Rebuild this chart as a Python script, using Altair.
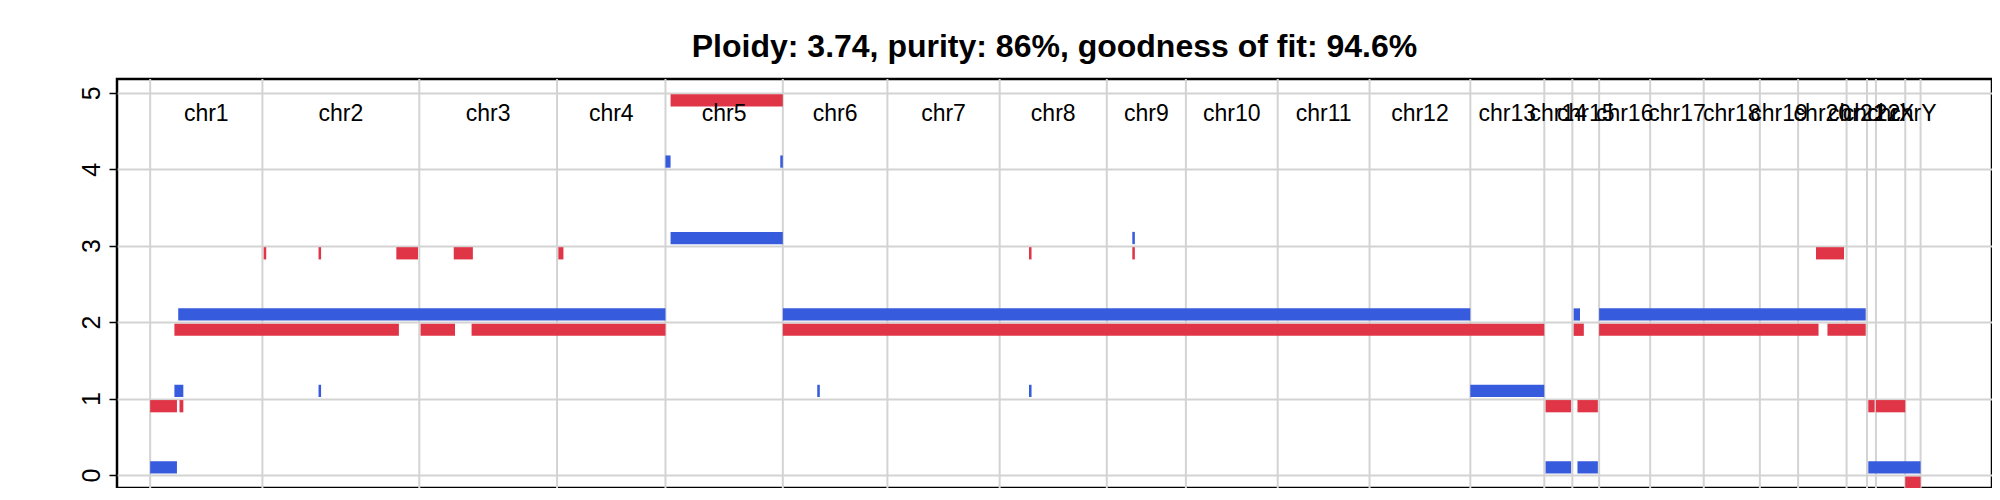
import pandas as pd
import altair as alt

FONT = "Liberation Sans"

# chromosome boundaries (probe index units along the genome)
chrom_names = ["chr1", "chr2", "chr3", "chr4", "chr5", "chr6", "chr7", "chr8", "chr9", "chr10",
               "chr11", "chr12", "chr13", "chr14", "chr15", "chr16", "chr17", "chr18", "chr19",
               "chr20", "chr21", "chr22", "chrX", "chrY"]
chrom_start = [118, 206, 329, 437, 522, 614, 696, 784, 868, 930, 1002, 1074, 1153, 1211, 1233,
               1254, 1294, 1336, 1380, 1410, 1448, 1464, 1471, 1494]
chrom_end = chrom_start[1:] + [1506]

# red segments
red_start = [118, 141, 137, 330, 370, 207, 250, 311, 356, 438, 522, 612, 526, 614, 807, 888,
             1212, 1237, 1234, 1254, 1433, 1424, 1465, 1471, 1494]
red_end = [139, 144, 313, 357, 522, 209, 252, 328, 371, 442, 526, 614, 614, 1211, 809, 890,
           1232, 1253, 1242, 1426, 1463, 1446, 1470, 1494, 1506]
red_cn = [1, 1, 2, 2, 2, 3, 3, 3, 3, 3, 6, 6, 5, 2, 3, 3, 1, 1, 2, 2, 2, 3, 1, 1, 0]

# blue segments
blue_start = [118, 137, 250, 140, 522, 612, 526, 614, 641, 807, 888, 1153, 1212, 1237, 1234, 1254, 1465]
blue_end = [139, 144, 252, 522, 526, 614, 614, 1153, 643, 809, 890, 1211, 1232, 1253, 1239, 1463, 1506]
blue_cn = [0, 1, 1, 2, 4, 4, 3, 2, 1, 1, 3, 1, 0, 0, 2, 2, 0]

red = pd.DataFrame({"start": red_start, "end": red_end, "cn": red_cn})
red["y1"] = red["cn"] - 0.02
red["y2"] = red["cn"] - 0.18
blue = pd.DataFrame({"start": blue_start, "end": blue_end, "cn": blue_cn})
blue["y1"] = blue["cn"] + 0.02
blue["y2"] = blue["cn"] + 0.18

chroms = pd.DataFrame({"name": chrom_names, "start": chrom_start, "end": chrom_end})
chroms["mid"] = (chroms["start"] + chroms["end"]) / 2
bounds = pd.DataFrame({"pos": chrom_start + [1506]})

x_scale = alt.Scale(domain=[92, 1562], nice=False, zero=False)
y_scale = alt.Scale(domain=[-0.17, 5.18], nice=False, zero=False)
x_noaxis = alt.X("start:Q", scale=x_scale, axis=None)

grid = alt.Chart(bounds).mark_rule(color="#d3d3d3", strokeWidth=2).encode(
    x=alt.X("pos:Q", scale=x_scale, axis=None)
)

def segs(df, colour):
    return alt.Chart(df).mark_rect(color=colour, clip=True).encode(
        x=x_noaxis, x2="end:Q",
        y=alt.Y("y1:Q", scale=y_scale,
                axis=alt.Axis(values=[0, 1, 2, 3, 4, 5], format="d", title=None, grid=True,
                              gridColor="#d3d3d3", gridWidth=2, labelAngle=270,
                              labelAlign="center", labelBaseline="bottom",
                              labelFontSize=25, labelFont=FONT, labelColor="black",
                              labelFlush=False, labelOverlap=False,
                              tickColor="black", tickSize=8, tickWidth=1.5,
                              labelPadding=5, domain=False)),
        y2="y2:Q",
    )

labels = alt.Chart(chroms).mark_text(fontSize=23, font=FONT, color="black").encode(
    x=alt.X("mid:Q", scale=x_scale, axis=None),
    y=alt.datum(4.72),
    text="name:N",
)

chart = alt.layer(grid, segs(red, "#DF3547"), segs(blue, "#375BDD"), labels).properties(
    width=1875, height=409,
    title=alt.Title("Ploidy: 3.74, purity: 86%, goodness of fit: 94.6%",
                    font=FONT, fontSize=32, fontWeight="bold", color="black", offset=14),
    autosize=alt.AutoSizeParams(type="none"),
    padding={"left": 109, "top": 71, "right": 0, "bottom": 0},
).configure_view(stroke="black", strokeWidth=2.5)

chart.save("out.html", embed_options={"renderer": "svg", "actions": False})
